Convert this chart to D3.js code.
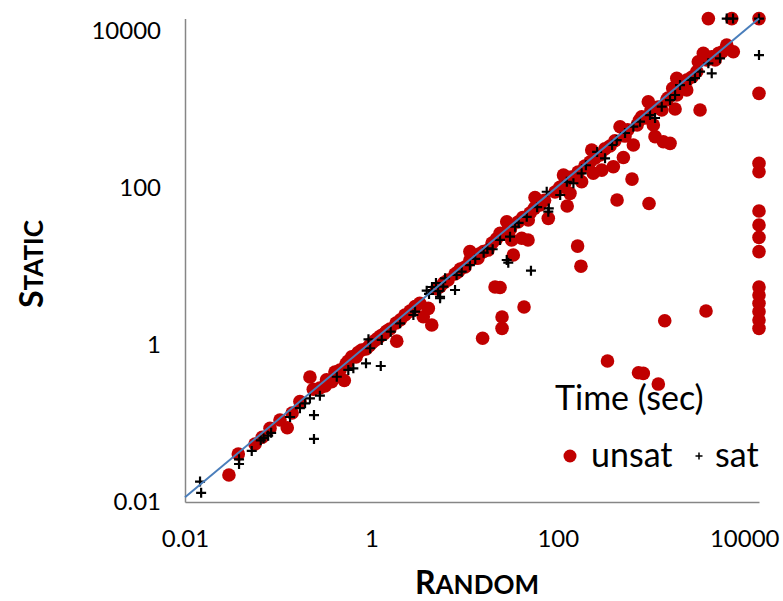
<!DOCTYPE html>
<html>
<head>
<meta charset="utf-8">
<script src="https://cdn.jsdelivr.net/npm/d3@7"></script>
<style>
body { margin: 0; background: #fff; }
svg text { font-family: Lato, "Open Sans", sans-serif; }
</style>
</head>
<body>
<svg id="chart" width="783" height="601"></svg>
<script>
// run times in seconds (14400 = timeout)
const unsatRandom = [
	0.0296, 0.0373, 0.0564, 0.0674, 0.0817, 0.1045, 0.125, 0.141, 0.171, 0.219,
	0.238, 0.28, 0.318, 0.33, 0.375, 0.406, 0.43, 0.46, 0.512, 0.533,
	0.56, 0.615, 0.684, 0.72, 0.787, 0.875, 0.95, 1.01, 1.1, 1.18,
	1.25, 1.36, 1.45, 1.58, 1.87, 1.84, 2.05, 2.29, 2.6, 2.94,
	3.3, 3.6, 4.44, 4.08, 5, 5.45, 6, 6.64, 7.89, 8.49,
	9, 10.1, 11.4, 15.9, 11.4, 12.9, 13.9, 14.5, 17.8, 19.7,
	22, 21.2, 24, 25.2, 25.2, 15.6, 43.4, 24, 27.1, 28.3,
	31, 33.3, 41, 47.9, 32, 37.4, 42, 48.2, 50.3, 56,
	79, 64.4, 72, 126, 56.9, 93.3, 105, 115, 135, 119,
	140, 163, 177, 165, 180, 195, 221, 231, 240, 250,
	296, 284, 320, 363, 394, 410, 505, 432, 952, 625,
	465, 526, 560, 646, 708, 750, 794, 883, 935, 1000,
	1059, 1104, 1355, 1600, 1189, 1303, 1811, 1473, 1521, 1888,
	2415, 1888, 1710, 2152, 2450, 2754, 3100, 3357, 3640, 3214,
	3963, 4480, 4864, 5300, 5780, 6490, 7640, 4120, 7345, 14400,
	14400, 14400, 14400, 14400, 14400, 14400, 14400, 14400, 14400, 14400,
	14400, 14400, 14400,
	341, 734, 826, 1197, 1403, 3890
];
const unsatStatic = [
	0.0221, 0.0408, 0.0548, 0.0667, 0.0869, 0.111, 0.0883, 0.136, 0.19, 0.391,
	0.273, 0.283, 0.301, 0.36, 0.34, 0.453, 0.42, 0.481, 0.353, 0.573,
	0.62, 0.71, 0.703, 0.8, 0.863, 0.889, 0.98, 1.06, 1.15, 1.23,
	1.3, 1.38, 1.5, 1.6, 1.12, 1.91, 2.1, 2.41, 2.7, 3.08,
	3.4, 2.29, 1.8, 2.93, 5.2, 5.53, 6.2, 6.73, 8.02, 8.51,
	9.3, 9.86, 15.5, 15.5, 12.1, 12.8, 12.8, 14.5, 16.2, 19.9,
	22.5, 5.48, 5.4, 2.27, 1.63, 1.22, 3.05, 26.5, 26.7, 37.2,
	30, 14, 22.9, 21.8, 21.8, 36.9, 42, 39.1, 48.1, 55,
	41.1, 60.7, 70, 59, 75.7, 88.9, 102, 146, 85.5, 116,
	138, 18.2, 10.1, 160, 120, 190, 214, 305, 154, 240,
	169, 263, 315, 343, 187, 400, 245, 70.3, 63.5, 130,
	604, 459, 550, 353, 635, 730, 810, 780, 1256, 980,
	635, 451, 389, 371, 1076, 986, 1014, 1321, 1400, 2496,
	1771, 1531, 1862, 1991, 2400, 2594, 3050, 986, 5200, 4064,
	4276, 4710, 4276, 5200, 5400, 6637, 5450, 14400, 14400, 14400,
	1607, 206, 161, 50.9, 33.8, 23.5, 15.5, 5.48, 4.33, 3.4,
	2.66, 2.08, 1.63,
	0.625, 0.444, 0.435, 0.318, 2.04, 2.71
];
const satRandom = [
	0.0145, 0.0149, 0.038, 0.038, 0.052, 0.065, 0.0695, 0.078, 0.084, 0.134,
	0.171, 0.194, 0.219, 0.28, 0.242, 0.242, 0.425, 0.565, 0.64, 0.875,
	1.26, 0.93, 0.97, 1.29, 1.61, 2.03, 2.82, 2.94, 3.92, 5.45,
	6.17, 5.9, 7.89, 5.45, 4.47, 4.93, 5.19, 4.15, 8.2, 9.3,
	11.4, 13, 16, 17.5, 20, 28.3, 29.4, 51.5, 24, 30.7,
	34.8, 38, 46.4, 60, 76, 79, 80, 106, 125, 147,
	180, 200, 264, 321, 382, 429, 526, 646, 762, 975,
	1104, 1303, 1600, 1811, 2046, 2620, 2965, 3357, 4120, 4480,
	5500, 6490, 7586, 14400, 14400
];
const satStatic = [
	0.0182, 0.0131, 0.035, 0.0305, 0.0447, 0.061, 0.065, 0.070, 0.076, 0.121,
	0.157, 0.181, 0.209, 0.226, 0.128, 0.0636, 0.394, 0.481, 0.505, 0.585,
	0.54, 1.18, 0.91, 1.16, 1.48, 1.89, 2.41, 2.66, 4.92, 4.12,
	7.08, 5.53, 5.02, 3.94, 5.48, 6.17, 4.87, 4.47, 7.8, 8.6,
	10.4, 12.5, 15, 17, 16.6, 12.1, 11.2, 8.84, 21.8, 24,
	32.1, 36, 43, 57, 89.7, 49.9, 55, 81.5, 120, 115,
	154, 195, 288, 239, 353, 408, 502, 604, 700, 851,
	780, 1086, 1321, 1531, 2051, 2377, 2518, 3034, 3880, 2890,
	4490, 14400, 14400, 14400, 4940
];
const tickValues = [0.01, 1, 100, 10000];
const axisRange = [0.01, 14400];
const diagonal = [[0.01, 0.0115], [14400, 14400]];

const svg = d3.select("#chart");
const plotLeft = 185, plotRight = 759, plotTop = 18.6, plotBottom = 502;

const x = d3.scaleLog().domain(axisRange).range([plotLeft, plotRight]);
const y = d3.scaleLog().domain(axisRange).range([plotBottom, plotTop]);
const fmt = d => d < 1 ? String(d) : d3.format("d")(d);

const xAxis = svg.append("g")
	.attr("transform", "translate(0," + plotBottom + ")")
	.call(d3.axisBottom(x).tickValues(tickValues).tickFormat(fmt).tickSize(0).tickPadding(28));
const yAxis = svg.append("g")
	.attr("transform", "translate(" + plotLeft + ",0)")
	.call(d3.axisLeft(y).tickValues(tickValues).tickFormat(fmt).tickSize(0).tickPadding(24));
[xAxis, yAxis].forEach(g => {
	g.select(".domain").attr("stroke", "#868686").attr("stroke-width", 1.5);
	g.selectAll("text").attr("font-size", 24).attr("fill", "#000")
		.style("font-family", "Lato, sans-serif");
});

const unsat = unsatRandom.map((v, i) => ({rx: v, st: unsatStatic[i]}));
const sat = satRandom.map((v, i) => ({rx: v, st: satStatic[i]}));

svg.append("g").selectAll("circle").data(unsat).enter()
	.append("circle")
	.attr("cx", d => x(d.rx))
	.attr("cy", d => y(d.st))
	.attr("r", 6.8)
	.attr("fill", "#c00000");

svg.append("g").selectAll("path").data(sat).enter()
	.append("path")
	.attr("transform", d => "translate(" + x(d.rx) + "," + y(d.st) + ")")
	.attr("d", "M-5,0H5M0,-5V5")
	.attr("stroke", "#000")
	.attr("stroke-width", 2.2)
	.attr("fill", "none");

svg.append("path")
	.datum(diagonal)
	.attr("d", d3.line().x(d => x(d[0])).y(d => y(d[1])))
	.attr("stroke", "#4a7ebb")
	.attr("stroke-width", 2)
	.attr("fill", "none");

// legend
const legend = svg.append("g");
legend.append("text").attr("x", 555).attr("y", 410)
	.attr("font-size", 34).text("Time (sec)");
legend.append("circle").attr("cx", 570).attr("cy", 456).attr("r", 6.5).attr("fill", "#c00000");
legend.append("text").attr("x", 591).attr("y", 467).attr("font-size", 34).text("unsat");
legend.append("path").attr("transform", "translate(699,456)")
	.attr("d", "M-3.5,0H3.5M0,-3.5V3.5").attr("stroke", "#000").attr("stroke-width", 1.5);
legend.append("text").attr("x", 715).attr("y", 467).attr("font-size", 34).text("sat");

// axis titles in small caps
const xTitle = svg.append("text").attr("x", 477).attr("y", 594)
	.attr("text-anchor", "middle").attr("font-weight", "bold");
xTitle.append("tspan").attr("font-size", 32).text("R");
xTitle.append("tspan").attr("font-size", 26).text("ANDOM");

const yTitle = svg.append("text")
	.attr("transform", "translate(43,264) rotate(-90)")
	.attr("text-anchor", "middle").attr("font-weight", "bold");
yTitle.append("tspan").attr("font-size", 32).text("S");
yTitle.append("tspan").attr("font-size", 26).text("TATIC");
</script>
</body>
</html>
